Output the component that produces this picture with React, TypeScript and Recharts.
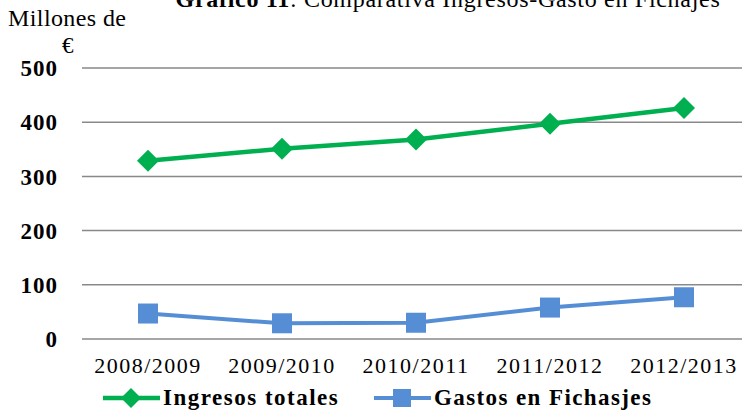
import React from 'react';
import { LineChart, Line, XAxis, YAxis, CartesianGrid, Legend } from 'recharts';

// Temporadas y valores (millones de €)
const temporadas = ['2008/2009', '2009/2010', '2010/2011', '2011/2012', '2012/2013'];
const ingresosTotales = [329, 351, 368, 397, 426];
const gastosFichajes = [47, 29, 30, 58, 77];
const yTicks = [0, 100, 200, 300, 400, 500];

const VERDE = '#00B050';
const AZUL = '#558ED5';
const SERIF = 'Liberation Serif';

const data = temporadas.map((t, i) => ({
  name: t,
  ingresos: ingresosTotales[i],
  gastos: gastosFichajes[i],
}));

const Diamond = (props: any) => {
  const { cx, cy } = props;
  if (cx == null || cy == null) return null;
  return <polygon points={`${cx},${cy - 11} ${cx + 11},${cy} ${cx},${cy + 11} ${cx - 11},${cy}`} fill={VERDE} />;
};

const Square = (props: any) => {
  const { cx, cy } = props;
  if (cx == null || cy == null) return null;
  return <rect x={cx - 10} y={cy - 10} width={20} height={20} fill={AZUL} />;
};

// Leyenda dibujada a mano para imitar la de Excel
const LeyendaExcel = () => (
  <svg width={742} height={28} style={{ display: 'block' }}>
    <line x1={103} y1={14} x2={160} y2={14} stroke={VERDE} strokeWidth={4.5} />
    <polygon points="131,4 141,14 131,24 121,14" fill={VERDE} />
    <text x={163} y={21} style={{ fontFamily: SERIF, letterSpacing: 1.5 }} fontWeight="bold" fontSize={23} fill="#000">
      Ingresos totales
    </text>
    <line x1={374} y1={14} x2={431} y2={14} stroke={AZUL} strokeWidth={4} />
    <rect x={393} y={5} width={18} height={18} fill={AZUL} />
    <text x={434} y={21} style={{ fontFamily: SERIF, letterSpacing: 1.4 }} fontWeight="bold" fontSize={23} fill="#000">
      Gastos en Fichasjes
    </text>
  </svg>
);

export default function App() {
  return (
    <div style={{ position: 'absolute', left: 0, top: 0, width: 742, height: 412, overflow: 'hidden', background: '#fff', fontFamily: SERIF }}>
      <div style={{ position: 'absolute', top: -14, left: 0, width: 742, textAlign: 'center', paddingLeft: 154, boxSizing: 'border-box', fontSize: 24, letterSpacing: 0.7, lineHeight: '26px', whiteSpace: 'nowrap', color: '#000' }}>
        <b>Gráfico 11</b>: Comparativa Ingresos-Gasto en Fichajes
      </div>
      <div style={{ position: 'absolute', top: 5, left: 8, fontSize: 24, letterSpacing: 0.4, lineHeight: '26px', color: '#000' }}>Millones de</div>
      <div style={{ position: 'absolute', top: 33, left: 62, fontSize: 23, lineHeight: '26px', color: '#000' }}>€</div>
      <LineChart
        width={750}
        height={412}
        data={data}
        margin={{ top: 68, right: 0, left: 0, bottom: 15 }}
        style={{ fontFamily: SERIF }}
      >
        <CartesianGrid vertical={false} stroke="#898989" strokeWidth={1.5} />
        <XAxis
          dataKey="name"
          axisLine={false}
          tickLine={false}
          height={30}
          tickMargin={12}
          padding={{ left: 66, right: 66 }}
          tick={{ fontSize: 22, fill: '#000', fontFamily: SERIF, letterSpacing: 1.5 }}
          interval={0}
        />
        <YAxis
          width={82}
          domain={[0, 500]}
          ticks={yTicks}
          axisLine={false}
          tickLine={false}
          tickMargin={18}
          tick={{ fontSize: 23, fill: '#000', fontFamily: SERIF, fontWeight: 'bold', letterSpacing: 1 }}
        />
        <Legend verticalAlign="bottom" content={<LeyendaExcel />} wrapperStyle={{ left: 0, top: 384 }} />
        <Line
          type="linear"
          dataKey="ingresos"
          name="Ingresos totales"
          stroke={VERDE}
          strokeWidth={4.5}
          dot={<Diamond />}
          activeDot={false}
          isAnimationActive={false}
        />
        <Line
          type="linear"
          dataKey="gastos"
          name="Gastos en Fichasjes"
          stroke={AZUL}
          strokeWidth={4}
          dot={<Square />}
          activeDot={false}
          isAnimationActive={false}
        />
      </LineChart>
    </div>
  );
}
